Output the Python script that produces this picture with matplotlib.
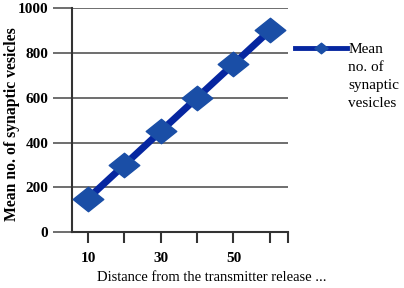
import matplotlib
matplotlib.use("Agg")
import matplotlib.pyplot as plt
from matplotlib.lines import Line2D
from matplotlib.path import Path

distance = [10, 20, 30, 40, 50, 60]
vesicles = [150, 300, 450, 600, 750, 900]
x_tick_labels = ["10", "", "30", "", "50", "", ""]
series_name = "Mean\nno. of\nsynaptic\nvesicles"

plt.rcParams["font.family"] = "Liberation Serif"

line_color = "#0626a0"
marker_color = "#1a4ea6"
# wide diamond, like the spreadsheet marker
diamond = Path([(-1, 0), (0, -0.8), (1, 0), (0, 0.8), (-1, 0)],
               [Path.MOVETO, Path.LINETO, Path.LINETO, Path.LINETO, Path.CLOSEPOLY])

fig = plt.figure(figsize=(4.04, 2.88), dpi=100)
ax = fig.add_axes([0.178, 0.194, 0.535, 0.778])

ax.plot(distance, vesicles, color=line_color, lw=5, marker=diamond,
        markersize=22, markerfacecolor=marker_color, markeredgecolor=marker_color,
        zorder=3)

ax.set_xlim(5.6, 65)
ax.set_ylim(0, 1000)
ax.set_yticks([0, 200, 400, 600, 800, 1000])
ax.set_xticks(distance + [65])
ax.set_xticklabels(x_tick_labels)
ax.grid(axis="y", color="#555555", lw=1.2)
ax.set_axisbelow(True)
for s in ["top", "right"]:
    ax.spines[s].set_visible(False)
ax.spines["left"].set_color("#333333")
ax.spines["bottom"].set_color("#333333")
ax.spines["left"].set_linewidth(1.5)
ax.spines["bottom"].set_linewidth(1.5)
ax.tick_params(axis="y", length=14, width=1.2, color="#555555", labelsize=11, pad=3)
ax.tick_params(axis="x", length=8, width=1.5, color="#333333", labelsize=11, pad=6)
for t in ax.get_yticklabels() + ax.get_xticklabels():
    t.set_fontweight("bold")

fig.text(0.525, 0.024, "Distance from the transmitter release ...", fontsize=10.5,
         ha="center", va="baseline")
fig.text(0.03, 0.569, "Mean no. of synaptic vesicles", fontsize=11.3, fontweight="bold",
         rotation=90, ha="center", va="center")

# legend drawn by hand so the key sits beside the first line of the label
fig.add_artist(Line2D([0.731, 0.859], [0.833, 0.833], transform=fig.transFigure,
                      color=line_color, lw=3.5))
fig.add_artist(Line2D([0.795], [0.833], transform=fig.transFigure, marker=diamond,
                      markersize=9.5, color=marker_color, lw=0))
fig.text(0.862, 0.850, series_name, fontsize=11, ha="left", va="top",
         linespacing=1.5)

fig.savefig("out.png", dpi=100)
